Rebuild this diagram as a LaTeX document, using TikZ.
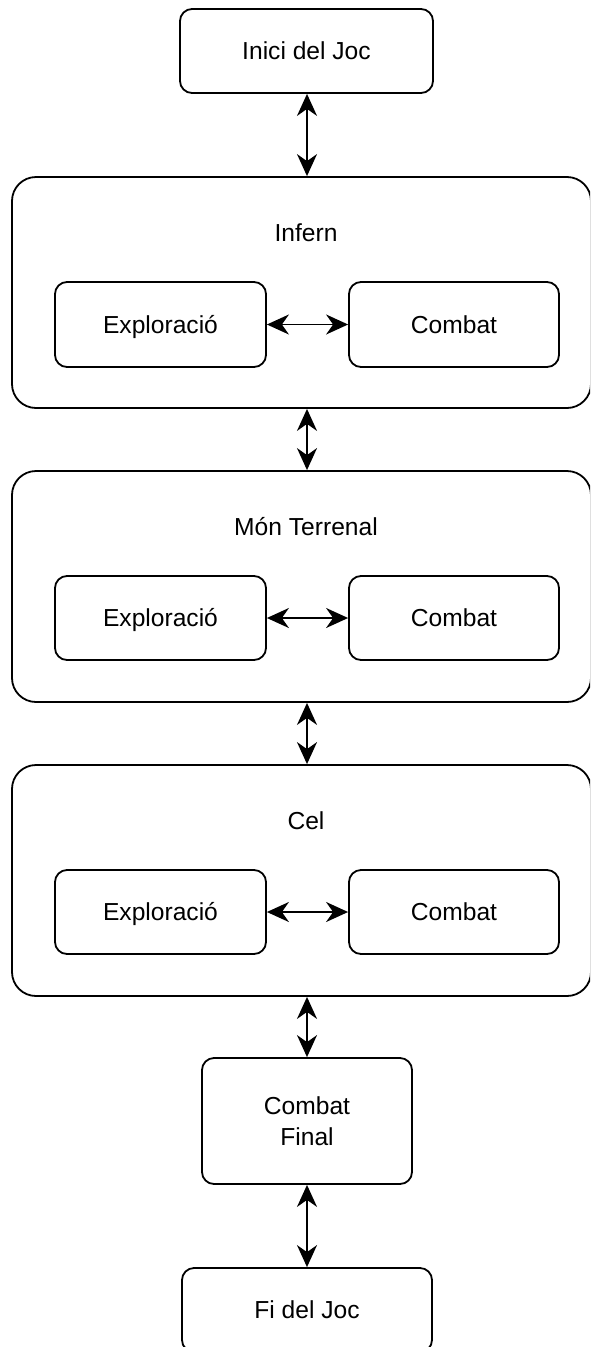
\documentclass[tikz,border=0pt]{standalone}
\usepackage{fontspec}
\setmainfont{Liberation Sans}
\usetikzlibrary{arrows.meta}
\begin{document}
\begin{tikzpicture}[x=1pt,y=-1pt,
  box/.style={draw, line width=1.8pt, rounded corners=12pt, inner sep=0pt, align=center,
    font=\fontsize{24.6}{31}\selectfont, text height=17.7pt, text depth=0pt},
  bigbox/.style={draw, line width=1.8pt, rounded corners=24pt, inner sep=0pt,
    minimum width=579pt, minimum height=231pt},
  title/.style={font=\fontsize{24.6}{31}\selectfont, inner sep=0pt, text height=17.7pt, text depth=0pt},
  link/.style={line width=1.8pt, {Stealth[length=22pt,width=20pt,inset=7pt]}-{Stealth[length=22pt,width=20pt,inset=7pt]}}
]
\useasboundingbox (0,0) rectangle (590,1347);
\clip (0,0) rectangle (590,1347);

\node[box, minimum width=253pt, minimum height=84pt] (start) at (306.5,51) {Inici del Joc};

\node[bigbox] (infern) at (301.5,292.5) {};
\node[title] (tinfern) at (306,233) {Infern};
\node[box, minimum width=211pt, minimum height=85pt] (e1) at (160.5,324.5) {Exploració};
\node[box, minimum width=210pt, minimum height=85pt] (c1) at (454,324.5) {Combat};

\node[bigbox] (mon) at (301.5,586.5) {};
\node[title] (tmon) at (306,527) {Món Terrenal};
\node[box, minimum width=211pt, minimum height=84pt] (e2) at (160.5,618) {Exploració};
\node[box, minimum width=210pt, minimum height=84pt] (c2) at (454,618) {Combat};

\node[bigbox] (cel) at (301.5,880.5) {};
\node[title] (tcel) at (306,821) {Cel};
\node[box, minimum width=211pt, minimum height=84pt] (e3) at (160.5,912) {Exploració};
\node[box, minimum width=210pt, minimum height=84pt] (c3) at (454,912) {Combat};

\node[box, minimum width=210pt, minimum height=126pt, text height={}, text depth={}] (final) at (307,1121) {Combat\\Final};
\node[box, minimum width=250pt, minimum height=84pt] (end) at (307,1310) {Fi del Joc};

\draw[link] (start.south -| 307,0) -- (infern.north -| 307,0);
\draw[link] (infern.south -| 307,0) -- (mon.north -| 307,0);
\draw[link] (mon.south -| 307,0) -- (cel.north -| 307,0);
\draw[link] (cel.south -| 307,0) -- (final.north);
\draw[link] (final.south) -- (end.north);

\draw[link] (e1.east) -- (c1.west);
\draw[link] (e2.east) -- (c2.west);
\draw[link] (e3.east) -- (c3.west);
\end{tikzpicture}
\end{document}
